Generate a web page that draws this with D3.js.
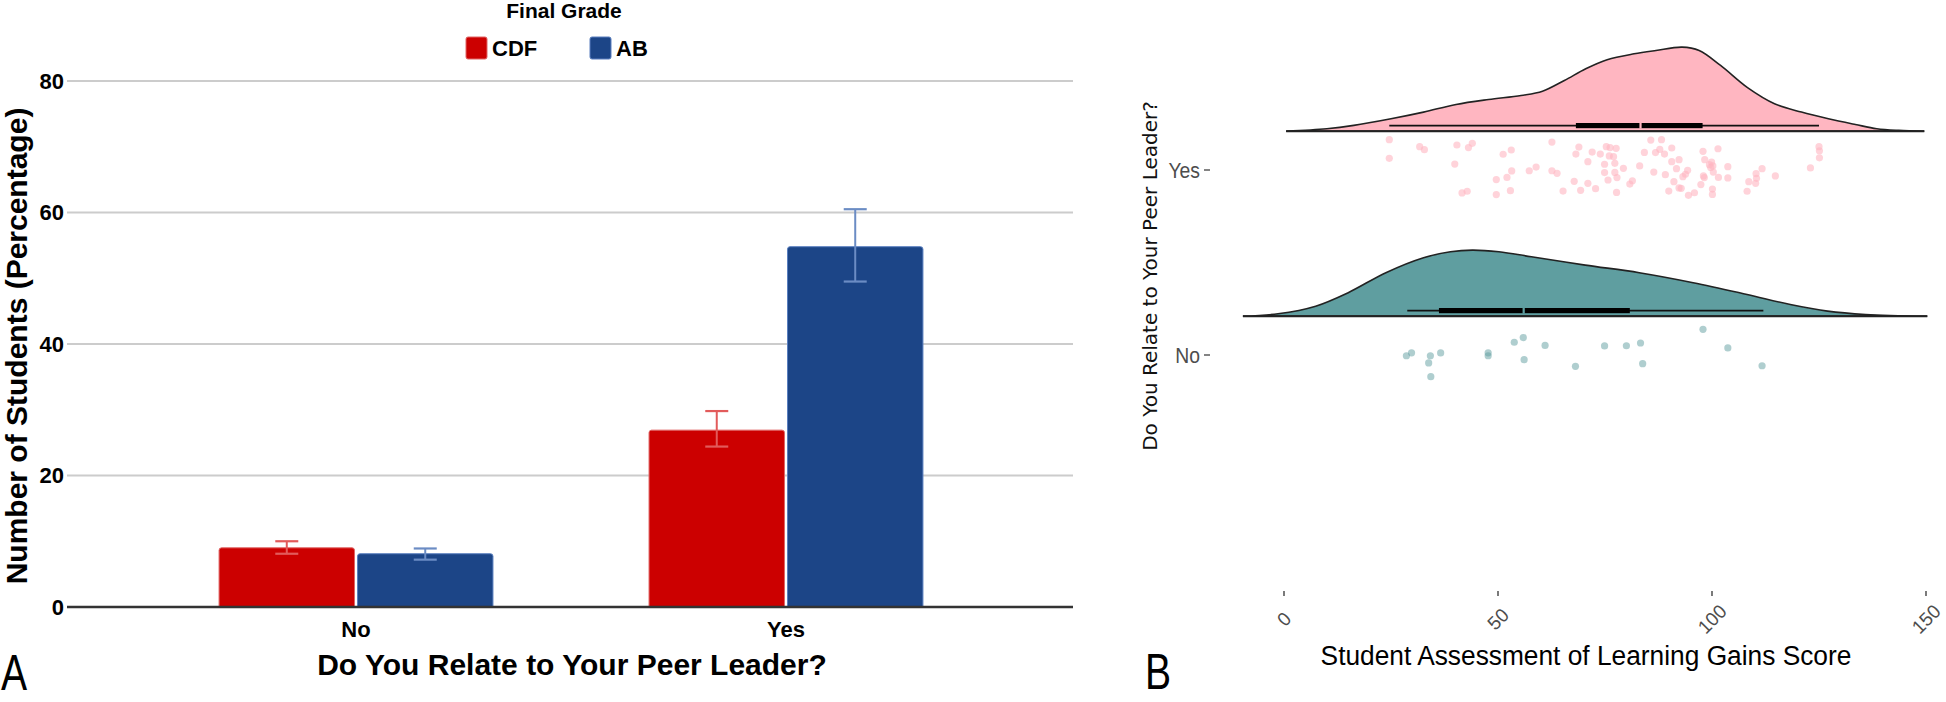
<!DOCTYPE html>
<html><head><meta charset="utf-8">
<script src="https://cdn.jsdelivr.net/npm/d3@7"></script>
<style>body{margin:0;background:#fff}svg{display:block}</style>
</head><body>
<svg id="c" width="1946" height="702"></svg>
<script>
// ---------- Panel A data ----------
const groups = ["No", "Yes"];
const grades = ["CDF", "AB"];
const cdfValues = [9.0, 26.9];
const cdfLow = [8.1, 24.4];
const cdfHigh = [10.0, 29.8];
const abValues = [8.1, 54.8];
const abLow = [7.2, 49.5];
const abHigh = [8.9, 60.5];
const yTicksA = [0, 20, 40, 60, 80];

// ---------- Panel B data ----------
const relateCats = ["No", "Yes"];
const xTicksB = [0, 50, 100, 150];
const noScores = [28.6,29.8,34.2,33.8,34.3,36.6,47.7,47.7,53.8,55.9,56.1,61.0,68.1,74.9,80.0,83.3,83.8,97.9,103.7,111.7];
const noJitter = [-0.004,0.012,-0.004,-0.043,-0.117,0.011,0.012,-0.004,0.069,0.094,-0.025,0.052,-0.061,0.049,0.050,0.065,-0.047,0.139,0.038,-0.058];
const yesScores = [24.6,24.6,31.7,32.8,39.9,40.4,41.6,42.8,43.1,44.0,49.6,49.6,51.2,52.1,52.9,53.1,53.2,57.3,58.9,62.6,62.6,63.8,65.2,67.8,68.2,68.9,69.3,71.0,71.0,72.0,72.8,73.9,74.9,74.9,75.3,75.7,76.0,76.2,77.0,77.3,77.3,77.6,77.7,77.8,79.3,80.8,81.4,83.1,84.2,85.7,86.4,86.8,87.8,88.2,88.9,89.1,89.9,90.6,90.6,91.1,91.7,92.3,92.3,92.8,93.2,93.8,94.3,94.5,95.9,97.4,97.9,98.0,98.2,98.3,99.4,99.7,99.9,100.1,100.1,100.2,100.3,101.4,101.5,103.7,103.7,108.2,108.6,110.2,110.3,110.4,111.7,114.8,123.0,125.0,125.1,125.1];
const yesJitter = [0.164,0.063,0.126,0.110,0.032,0.135,-0.124,-0.115,0.121,0.144,-0.052,-0.133,0.085,-0.040,-0.112,0.108,-0.005,-0.004,0.016,0.151,-0.004,-0.018,-0.114,-0.061,0.086,0.124,-0.110,0.045,-0.072,0.097,-0.101,0.086,0.031,-0.014,0.126,-0.054,0.076,0.121,0.072,0.036,-0.013,0.117,-0.121,-0.041,0.009,-0.076,-0.058,0.022,0.095,0.162,-0.011,0.094,0.112,0.164,0.086,-0.025,-0.114,0.119,0.045,-0.063,0.007,0.056,-0.097,-0.099,-0.036,-0.023,-0.002,-0.137,-0.123,-0.079,0.101,-0.032,-0.041,0.056,0.029,0.014,0.043,-0.103,-0.132,0.022,-0.011,0.115,-0.040,0.018,-0.043,-0.115,-0.063,-0.072,-0.020,-0.045,0.007,-0.032,0.011,0.126,0.104,0.066];
// density curves (score, height in category units)
const densNoX = [-9.6,-1.4,7.4,15,23.8,32.6,38.9,44,50.2,57.8,70.4,83,95.6,108.2,118.3,127,135.9,150.3];
const densNoY = [0,0.013,0.054,0.127,0.235,0.316,0.348,0.357,0.348,0.321,0.276,0.235,0.181,0.117,0.063,0.027,0.009,0];
const densYesX = [0.5,10,16.3,25,32.6,40.2,47.8,55.4,60.4,65.5,70.5,75.5,81.8,86.9,93,97,102,108.3,114.6,120.9,127.2,133.5,138.5,143.6,149.6];
const densYesY = [0,0.013,0.031,0.067,0.103,0.144,0.171,0.193,0.216,0.274,0.337,0.386,0.418,0.436,0.454,0.436,0.355,0.235,0.148,0.103,0.067,0.036,0.013,0.004,0];
// boxplot stats [min, q1, median, q3, max]
const boxNo = [28.8, 36.2, 56.0, 80.8, 112.0];
const boxYes = [24.6, 68.2, 83.3, 97.8, 125.0];

const svg = d3.select("#c");
const FA = "'Liberation Sans', Arial, sans-serif";

// ================= PANEL A =================
const yA = d3.scaleLinear().domain([0, 80]).range([607, 81]);
const xA0 = d3.scaleBand().domain(groups).range([69, 1073]).paddingInner(0.363).paddingOuter(0.349);
const xA1 = d3.scaleBand().domain(grades).range([0, xA0.bandwidth()]).paddingInner(0.022);
const fill = {CDF: "#cc0000", AB: "#1c4587"};
const edge = {CDF: "#e06666", AB: "#5a7fbf"};
const errc = {CDF: "#e25b5b", AB: "#6b8cc4"};

const gA = svg.append("g");
gA.selectAll("line.grid").data(yTicksA.filter(d => d > 0)).join("line")
  .attr("x1", 67).attr("x2", 1073)
  .attr("y1", d => yA(d)).attr("y2", d => yA(d))
  .attr("stroke", "#cccccc").attr("stroke-width", 2);
gA.selectAll("text.yt").data(yTicksA).join("text")
  .attr("x", 64).attr("y", d => yA(d)).attr("dy", "0.36em")
  .attr("text-anchor", "end").attr("font-family", FA).attr("font-weight", "bold")
  .attr("font-size", 22).attr("fill", "#000").text(d => d);

const barRows = [];
groups.forEach((g, i) => {
  barRows.push({g, grade: "CDF", v: cdfValues[i], lo: cdfLow[i], hi: cdfHigh[i]});
  barRows.push({g, grade: "AB", v: abValues[i], lo: abLow[i], hi: abHigh[i]});
});
const bw = xA1.bandwidth();
gA.selectAll("path.bar").data(barRows).join("path")
  .attr("d", d => {
    const x = xA0(d.g) + xA1(d.grade), y = yA(d.v), b = yA(0), r = 2.5;
    return `M${x},${b}V${y + r}Q${x},${y} ${x + r},${y}H${x + bw - r}Q${x + bw},${y} ${x + bw},${y + r}V${b}Z`;
  })
  .attr("fill", d => fill[d.grade]).attr("stroke", d => edge[d.grade]).attr("stroke-width", 1);
const eb = gA.selectAll("g.eb").data(barRows).join("g")
  .attr("transform", d => `translate(${xA0(d.g) + xA1(d.grade) + bw / 2},0)`);
eb.append("line").attr("x1", 0).attr("x2", 0).attr("y1", d => yA(d.lo)).attr("y2", d => yA(d.hi))
  .attr("stroke", d => errc[d.grade]).attr("stroke-width", 2);
eb.append("line").attr("x1", -11.5).attr("x2", 11.5).attr("y1", d => yA(d.hi)).attr("y2", d => yA(d.hi))
  .attr("stroke", d => errc[d.grade]).attr("stroke-width", 2.2);
eb.append("line").attr("x1", -11.5).attr("x2", 11.5).attr("y1", d => yA(d.lo)).attr("y2", d => yA(d.lo))
  .attr("stroke", d => errc[d.grade]).attr("stroke-width", 2.2);
gA.append("line").attr("x1", 67).attr("x2", 1073).attr("y1", yA(0)).attr("y2", yA(0))
  .attr("stroke", "#333").attr("stroke-width", 2.5);
gA.selectAll("text.xt").data(groups).join("text")
  .attr("x", d => xA0(d) + xA0.bandwidth() / 2).attr("y", 637)
  .attr("text-anchor", "middle").attr("font-family", FA).attr("font-weight", "bold")
  .attr("font-size", 22).text(d => d);
gA.append("text").attr("x", 572).attr("y", 675).attr("text-anchor", "middle")
  .attr("font-family", FA).attr("font-weight", "bold").attr("font-size", 30)
  .text("Do You Relate to Your Peer Leader?");
gA.append("text").attr("transform", "translate(27,346) rotate(-90)").attr("text-anchor", "middle")
  .attr("font-family", FA).attr("font-weight", "bold").attr("font-size", 30)
  .text("Number of Students (Percentage)");
gA.append("text").attr("x", 564).attr("y", 18).attr("text-anchor", "middle")
  .attr("font-family", FA).attr("font-weight", "bold").attr("font-size", 21).text("Final Grade");
const legX = {CDF: 466, AB: 590};
grades.forEach(k => {
  gA.append("rect").attr("x", legX[k]).attr("y", 37).attr("width", 21).attr("height", 22).attr("rx", 2)
    .attr("fill", fill[k]).attr("stroke", edge[k]).attr("stroke-width", 1);
  gA.append("text").attr("x", legX[k] + 26).attr("y", 56).attr("font-family", FA)
    .attr("font-weight", "bold").attr("font-size", 22).text(k);
});
svg.append("text").attr("transform", "translate(1,690) scale(0.85,1.08)").attr("font-family", FA)
  .attr("font-size", 46).text("A");

// ================= PANEL B =================
const xB = d3.scaleLinear().domain([0, 150]).range([1284, 1926]);
const yB = d3.scaleLinear().domain([1, 2]).range([355, 170]);
const gB = svg.append("g");
const colB = {No: "#5f9ea0", Yes: "#ffb6c1"};
const densNudge = 0.21, boxNudge = 0.24;

const dens = {No: densNoX.map((x, i) => [x, densNoY[i]]), Yes: densYesX.map((x, i) => [x, densYesY[i]])};
relateCats.forEach((c, ci) => {
  const base = ci + 1 + densNudge;
  const area = d3.area().x(d => xB(d[0])).y0(yB(base)).y1(d => yB(base + d[1])).curve(d3.curveCatmullRom.alpha(0.5));
  gB.append("path").attr("d", area(dens[c])).attr("fill", colB[c]).attr("stroke", "#222").attr("stroke-width", 1.6);
  gB.append("line").attr("x1", xB(dens[c][0][0])).attr("x2", xB(dens[c][dens[c].length - 1][0]))
    .attr("y1", yB(base)).attr("y2", yB(base)).attr("stroke", "#222").attr("stroke-width", 2);
});
const boxes = {No: boxNo, Yes: boxYes};
relateCats.forEach((c, ci) => {
  const yy = yB(ci + 1 + boxNudge), b = boxes[c];
  gB.append("line").attr("x1", xB(b[0])).attr("x2", xB(b[4])).attr("y1", yy).attr("y2", yy)
    .attr("stroke", "#111").attr("stroke-width", 1.8);
  gB.append("rect").attr("x", xB(b[1])).attr("width", xB(b[3]) - xB(b[1])).attr("y", yy - 2.6).attr("height", 5.2)
    .attr("fill", "#000");
  gB.append("line").attr("x1", xB(b[2])).attr("x2", xB(b[2])).attr("y1", yy - 3).attr("y2", yy + 3)
    .attr("stroke", colB[c]).attr("stroke-width", 2.2);
});
const pts = [];
noScores.forEach((v, i) => pts.push({c: "No", v, j: 1 + noJitter[i]}));
yesScores.forEach((v, i) => pts.push({c: "Yes", v, j: 2 + yesJitter[i]}));
gB.selectAll("circle").data(pts).join("circle")
  .attr("cx", d => xB(d.v)).attr("cy", d => yB(d.j)).attr("r", 3.6)
  .attr("fill", d => colB[d.c]).attr("fill-opacity", d => d.c === "No" ? 0.5 : 0.6);
relateCats.forEach((c, ci) => {
  gB.append("text").attr("transform", `translate(1200,${yB(ci + 1)}) scale(0.88,1)`).attr("dy", "0.36em")
    .attr("text-anchor", "end").attr("font-family", FA).attr("font-size", 22).attr("fill", "#4d4d4d").text(c);
  gB.append("line").attr("x1", 1204).attr("x2", 1210).attr("y1", yB(ci + 1)).attr("y2", yB(ci + 1))
    .attr("stroke", "#333").attr("stroke-width", 1.2);
});
xTicksB.forEach(t => {
  gB.append("line").attr("x1", xB(t)).attr("x2", xB(t)).attr("y1", 591).attr("y2", 596)
    .attr("stroke", "#333").attr("stroke-width", 1.3);
  gB.append("text").attr("transform", `translate(${xB(t)},619) rotate(-45)`).attr("text-anchor", "middle")
    .attr("dy", "0.36em").attr("font-family", FA).attr("font-size", 19).attr("fill", "#4d4d4d").text(t);
});
gB.append("text").attr("transform", "translate(1586,665) scale(0.94,1)").attr("text-anchor", "middle")
  .attr("font-family", FA).attr("font-size", 28).attr("fill", "#000")
  .text("Student Assessment of Learning Gains Score");
gB.append("text").attr("transform", "translate(1157,276) rotate(-90)").attr("text-anchor", "middle")
  .attr("font-family", "'DejaVu Sans', sans-serif").attr("font-size", 20).attr("fill", "#111")
  .text("Do You Relate to Your Peer Leader?");
svg.append("text").attr("transform", "translate(1145,689) scale(0.85,1.08)").attr("font-family", FA)
  .attr("font-size", 46).text("B");
</script>
</body></html>
